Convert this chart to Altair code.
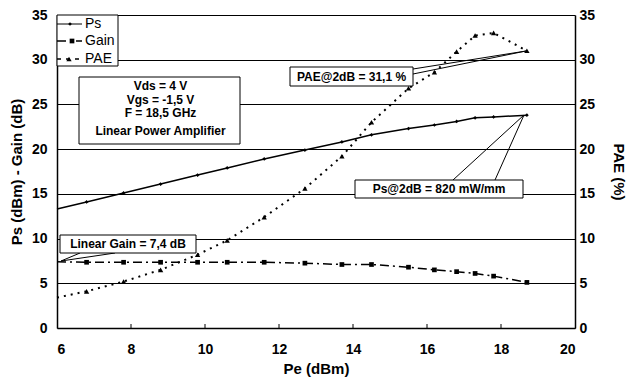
import altair as alt
import pandas as pd

# ---- data ----
pe = [6.0, 6.8, 7.8, 8.8, 9.8, 10.6, 11.6, 12.7, 13.7, 14.5, 15.5, 16.2, 16.8, 17.3, 17.8, 18.7]
ps = [13.3, 14.1, 15.1, 16.1, 17.1, 17.9, 18.9, 19.9, 20.8, 21.6, 22.3, 22.7, 23.1, 23.5, 23.6, 23.8]
gain = [7.4, 7.35, 7.35, 7.35, 7.35, 7.35, 7.35, 7.25, 7.1, 7.1, 6.8, 6.5, 6.3, 6.1, 5.8, 5.1]
pae = [3.4, 4.1, 5.2, 6.5, 8.2, 9.8, 12.4, 15.6, 19.2, 23.0, 26.8, 28.6, 30.9, 32.7, 33.0, 31.0]
has_marker = [False] + [True] * 15

x_ticks = [6, 8, 10, 12, 14, 16, 18, 20]
x_inner_ticks = [8, 10, 12, 14, 16, 18]
y_ticks = [0, 5, 10, 15, 20, 25, 30, 35]

info_lines = ["Vds = 4 V", "Vgs = -1,5 V", "F = 18,5 GHz", "Linear Power Amplifier"]
pae_note = "PAE@2dB = 31,1 %"
ps_note = "Ps@2dB = 820 mW/mm"
gain_note = "Linear Gain = 7,4 dB"

df = pd.DataFrame({"pe": pe, "ps": ps, "gain": gain, "pae": pae, "marker": has_marker})
pts = df[df["marker"]]
ticks_df = pd.DataFrame({"t": x_inner_ticks})
one = pd.DataFrame({"a": [0]})

W, H = 518, 313
FONT = "Liberation Sans"

xs = alt.Scale(domain=[6, 20], nice=False, zero=False)
ys = alt.Scale(domain=[0, 35], nice=False)

x_axis = alt.Axis(values=x_ticks, title="Pe (dBm)", grid=False, tickSize=0,
                  labelPadding=14, titleX=259, titleY=40, titleAlign="center",
                  titleBaseline="middle", format="d")
yl_axis = alt.Axis(values=y_ticks, title="Ps (dBm) - Gain (dB)", grid=True, tickSize=0,
                   labelPadding=10, titleX=-41, titleY=156.5, titleAngle=-90,
                   titleAlign="center", titleBaseline="middle", format="d")
yr_axis = alt.Axis(values=y_ticks, title="PAE (%)", orient="right", grid=False, tickSize=0,
                   labelPadding=4, titleX=43, titleY=156.5, titleAngle=90,
                   titleAlign="center", titleBaseline="middle", format="d")


def X(f):
    return alt.X(f + ":Q", scale=xs, axis=x_axis)


def YL(f):
    return alt.Y(f + ":Q", scale=ys, axis=yl_axis)


def YR(f):
    return alt.Y(f + ":Q", scale=ys, axis=yr_axis)


ps_line = alt.Chart(df).mark_line(color="black", strokeWidth=1.5).encode(x=X("pe"), y=YL("ps"))
ps_pts = alt.Chart(pts).mark_point(shape="diamond", filled=True, color="black", size=14, opacity=1).encode(
    x=X("pe"), y=YL("ps"))
gain_line = alt.Chart(df).mark_line(color="black", strokeWidth=1.5, strokeDash=[9, 4, 2, 4]).encode(
    x=X("pe"), y=YL("gain"))
gain_pts = alt.Chart(pts).mark_point(shape="square", filled=True, color="black", size=22, opacity=1).encode(
    x=X("pe"), y=YL("gain"))
inner_ticks = alt.Chart(ticks_df).mark_rule(color="black", strokeWidth=1).encode(
    x=X("t"), y=alt.value(H - 4), y2=alt.value(H))

# ---- annotations (pixel layout) ----
def box(x0, x1, y0, y1):
    return alt.Chart(one).mark_rect(fill="white", stroke="black", strokeWidth=1).encode(
        x=alt.value(x0), x2=alt.value(x1), y=alt.value(y0), y2=alt.value(y1))


def seg(x0, y0, x1, y1):
    return alt.Chart(one).mark_rule(color="black", strokeWidth=1).encode(
        x=alt.value(x0), x2=alt.value(x1), y=alt.value(y0), y2=alt.value(y1))


def txt(s, x, y, size=12, weight="bold", align="center"):
    return alt.Chart(one).mark_text(text=s, font=FONT, fontSize=size, fontWeight=weight,
                                     align=align, baseline="middle", color="black").encode(
        x=alt.value(x), y=alt.value(y))


ann = []
# legend
ann.append(box(0, 61, 0, 51))
ann.append(seg(0, 9, 25, 9))
ann.append(alt.Chart(one).mark_point(shape="diamond", filled=True, color="black", size=14, opacity=1).encode(
    x=alt.value(13), y=alt.value(9)))
ann.append(alt.Chart(one).mark_rule(color="black", strokeWidth=1.5, strokeDash=[9, 4, 2, 4]).encode(
    x=alt.value(0), x2=alt.value(25), y=alt.value(26), y2=alt.value(26)))
ann.append(alt.Chart(one).mark_point(shape="square", filled=True, color="black", size=22, opacity=1).encode(
    x=alt.value(15), y=alt.value(26)))
ann.append(alt.Chart(one).mark_rule(color="black", strokeWidth=1.5, strokeDash=[4, 5]).encode(
    x=alt.value(0), x2=alt.value(25), y=alt.value(44), y2=alt.value(44)))
ann.append(alt.Chart(one).mark_point(shape="triangle-up", filled=True, color="black", size=28, opacity=1).encode(
    x=alt.value(12), y=alt.value(44)))
ann.append(txt("Ps", 28, 9, size=14, weight="normal", align="left"))
ann.append(txt("Gain", 28, 26, size=14, weight="normal", align="left"))
ann.append(txt("PAE", 28, 44, size=14, weight="normal", align="left"))

# info box
ann.append(box(22, 183, 62, 129))
for s, yy in zip(info_lines, [71, 84.5, 98, 115.5]):
    ann.append(txt(s, 103.5, yy))

# PAE callout
ann.append(seg(356, 54, 469, 36))
ann.append(seg(356, 59, 469, 36))
ann.append(box(233, 356, 52, 71))
ann.append(txt(pae_note, 294.5, 61.5))

# Ps callout
ann.append(seg(396, 165, 467, 100))
ann.append(seg(438, 165, 467, 100))
ann.append(box(298, 466, 165, 183))
ann.append(txt(ps_note, 382, 174))

# Linear gain callout
ann.append(seg(4, 246, 23, 238))
ann.append(seg(4, 246, 58, 238))
ann.append(box(3, 139, 220, 238))
ann.append(txt(gain_note, 71, 229))

left = alt.layer(gain_line, gain_pts, ps_line, ps_pts, inner_ticks)

pae_line = alt.Chart(df).mark_line(color="black", strokeWidth=2, strokeDash=[2, 5]).encode(
    x=X("pe"), y=YR("pae"))
pae_pts = alt.Chart(pts).mark_point(shape="triangle-up", filled=True, color="black", size=28, opacity=1).encode(
    x=X("pe"), y=YR("pae"))
right = alt.layer(pae_line, pae_pts)

annotations = alt.layer(*ann)

chart = alt.layer(left, right, annotations).resolve_scale(y="independent").properties(
    width=W, height=H,
    autosize=alt.AutoSizeParams(type="none"),
    padding={"left": 57, "top": 15, "right": 58, "bottom": 55},
    background="white",
).configure_axis(
    labelFont=FONT, labelFontSize=14, labelFontWeight="bold", labelColor="black",
    titleFont=FONT, titleFontSize=15, titleFontWeight="bold", titleColor="black",
    domainColor="black", domainWidth=1.5, gridColor="black", gridOpacity=1, gridWidth=1,
).configure_view(strokeWidth=0)

chart.save("out.html", embed_options={"renderer": "svg", "actions": False})
